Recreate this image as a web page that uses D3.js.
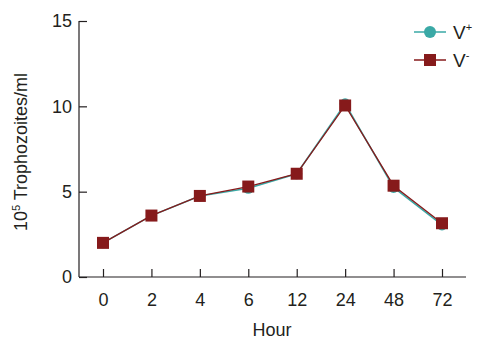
<!DOCTYPE html>
<html>
<head>
<meta charset="utf-8">
<script src="https://cdn.jsdelivr.net/npm/d3@7"></script>
<style>
  html, body { margin: 0; padding: 0; background: #fff; }
  svg text { font-family: "Liberation Sans", Arial, sans-serif; fill: #231f20; }
</style>
</head>
<body>
<svg id="chart" width="500" height="346"></svg>
<script>
// Trophozoite counts over time for the two groups
const hours = ["0", "2", "4", "6", "12", "24", "48", "72"];
const vPlus = [2.0, 3.6, 4.75, 5.2, 6.05, 10.15, 5.25, 3.05];
const vMinus = [2.0, 3.6, 4.75, 5.3, 6.05, 10.05, 5.35, 3.15];
const yTicks = [0, 5, 10, 15];
const seriesNames = ["V", "V"];
const seriesSup = ["+", "-"];

const svg = d3.select("#chart");
const teal = "#3aa9a6";
const darkRed = "#861a1b";

const x = d3.scalePoint().domain(hours).range([103, 442]);
const y = d3.scaleLinear().domain([0, 15]).range([277, 21]);

// Axes with inward ticks
const xAxis = svg.append("g").attr("transform", "translate(0,277)")
  .call(d3.axisBottom(x).tickSize(-8).tickPadding(16));
xAxis.select(".domain").attr("d", "M79,0H466");
const yAxis = svg.append("g").attr("transform", "translate(79,0)")
  .call(d3.axisLeft(y).tickValues(yTicks).tickSize(-8).tickPadding(7));
yAxis.select(".domain").attr("d", "M0,21V277");

svg.selectAll(".domain, .tick line").attr("stroke", "#231f20").attr("stroke-width", 1.2);
svg.selectAll(".tick text").attr("font-size", 18).attr("font-family", "Liberation Sans, Arial, sans-serif").attr("fill", "#231f20");

// Axis titles
svg.append("text").attr("x", 272).attr("y", 336).attr("text-anchor", "middle")
  .attr("font-size", 18).text("Hour");
const yt = svg.append("text").attr("transform", "translate(27,152) rotate(-90)")
  .attr("text-anchor", "middle").attr("font-size", 18);
yt.append("tspan").text("10");
yt.append("tspan").attr("font-size", 11).attr("dy", -7).text("5");
yt.append("tspan").attr("dy", 7).text(" Trophozoites/ml");

const line = d3.line().x((d, i) => x(hours[i])).y(d => y(d));

// V+ series (circles)
svg.append("path").datum(vPlus).attr("d", line).attr("fill", "none")
  .attr("stroke", teal).attr("stroke-width", 1.5);
svg.selectAll(".cPlus").data(vPlus).enter().append("circle")
  .attr("cx", (d, i) => x(hours[i])).attr("cy", d => y(d)).attr("r", 5.5).attr("fill", teal);

// V- series (squares)
svg.append("path").datum(vMinus).attr("d", line).attr("fill", "none")
  .attr("stroke", darkRed).attr("stroke-width", 1.3);
svg.selectAll(".sMinus").data(vMinus).enter().append("rect")
  .attr("x", (d, i) => x(hours[i]) - 6).attr("y", d => y(d) - 6)
  .attr("width", 12).attr("height", 12).attr("fill", darkRed);

// Legend
const legend = [{ c: teal, shape: "circle", cy: 32 }, { c: darkRed, shape: "rect", cy: 60 }];
legend.forEach((l, i) => {
  svg.append("line").attr("x1", 414).attr("x2", 446).attr("y1", l.cy).attr("y2", l.cy)
    .attr("stroke", l.c).attr("stroke-width", 1.5);
  if (l.shape === "circle") {
    svg.append("circle").attr("cx", 430).attr("cy", l.cy).attr("r", 6).attr("fill", l.c);
  } else {
    svg.append("rect").attr("x", 424).attr("y", l.cy - 6).attr("width", 12).attr("height", 12).attr("fill", l.c);
  }
  const t = svg.append("text").attr("x", 453).attr("y", l.cy + 7).attr("font-size", 19);
  t.append("tspan").text(seriesNames[i]);
  t.append("tspan").attr("font-size", 11).attr("dy", -8).text(seriesSup[i]);
});
</script>
</body>
</html>
